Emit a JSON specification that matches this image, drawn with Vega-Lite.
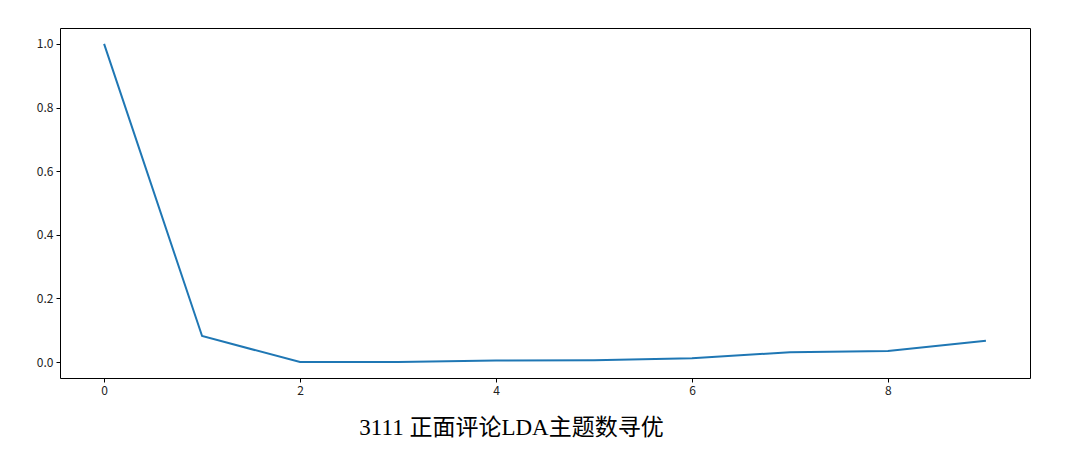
{
  "$schema": "https://vega.github.io/schema/vega-lite/v6.json",
  "width": 970,
  "height": 350,
  "autosize": "none",
  "padding": {"left": 60, "top": 28, "right": 55, "bottom": 82},
  "background": "white",
  "data": {
    "values": [
      {"k": 0, "v": 1.0},
      {"k": 1, "v": 0.082},
      {"k": 2, "v": 0.0},
      {"k": 3, "v": 0.0},
      {"k": 4, "v": 0.005},
      {"k": 5, "v": 0.006},
      {"k": 6, "v": 0.012},
      {"k": 7, "v": 0.031},
      {"k": 8, "v": 0.035},
      {"k": 9, "v": 0.067}
    ]
  },
  "config": {
    "view": {"stroke": "black", "strokeWidth": 1},
    "axis": {
      "grid": false,
      "domain": false,
      "tickColor": "black",
      "tickSize": 4,
      "tickWidth": 1,
      "labelFont": "Noto Sans CJK SC",
      "labelFontSize": 12,
      "labelColor": "#222222",
      "labelPadding": 3
    }
  },
  "mark": {"type": "line", "color": "#1f77b4", "strokeWidth": 2},
  "encoding": {
    "x": {
      "field": "k",
      "type": "quantitative",
      "scale": {"domain": [-0.45, 9.45], "nice": false, "zero": false},
      "axis": {
        "values": [0, 2, 4, 6, 8],
        "format": "d",
        "title": "3111 正面评论LDA主题数寻优",
        "titleFont": "Liberation Serif, Noto Sans CJK SC",
        "titleFontSize": 23,
        "titleFontWeight": "normal",
        "titleColor": "black",
        "titleX": 451,
        "titleY": 49,
        "titleBaseline": "middle",
        "titleAnchor": "middle",
        "titleAlign": "center"
      }
    },
    "y": {
      "field": "v",
      "type": "quantitative",
      "scale": {"domain": [-0.05, 1.05], "nice": false, "zero": false},
      "axis": {
        "values": [0, 0.2, 0.4, 0.6, 0.8, 1.0],
        "format": ".1f",
        "title": null
      }
    }
  }
}
